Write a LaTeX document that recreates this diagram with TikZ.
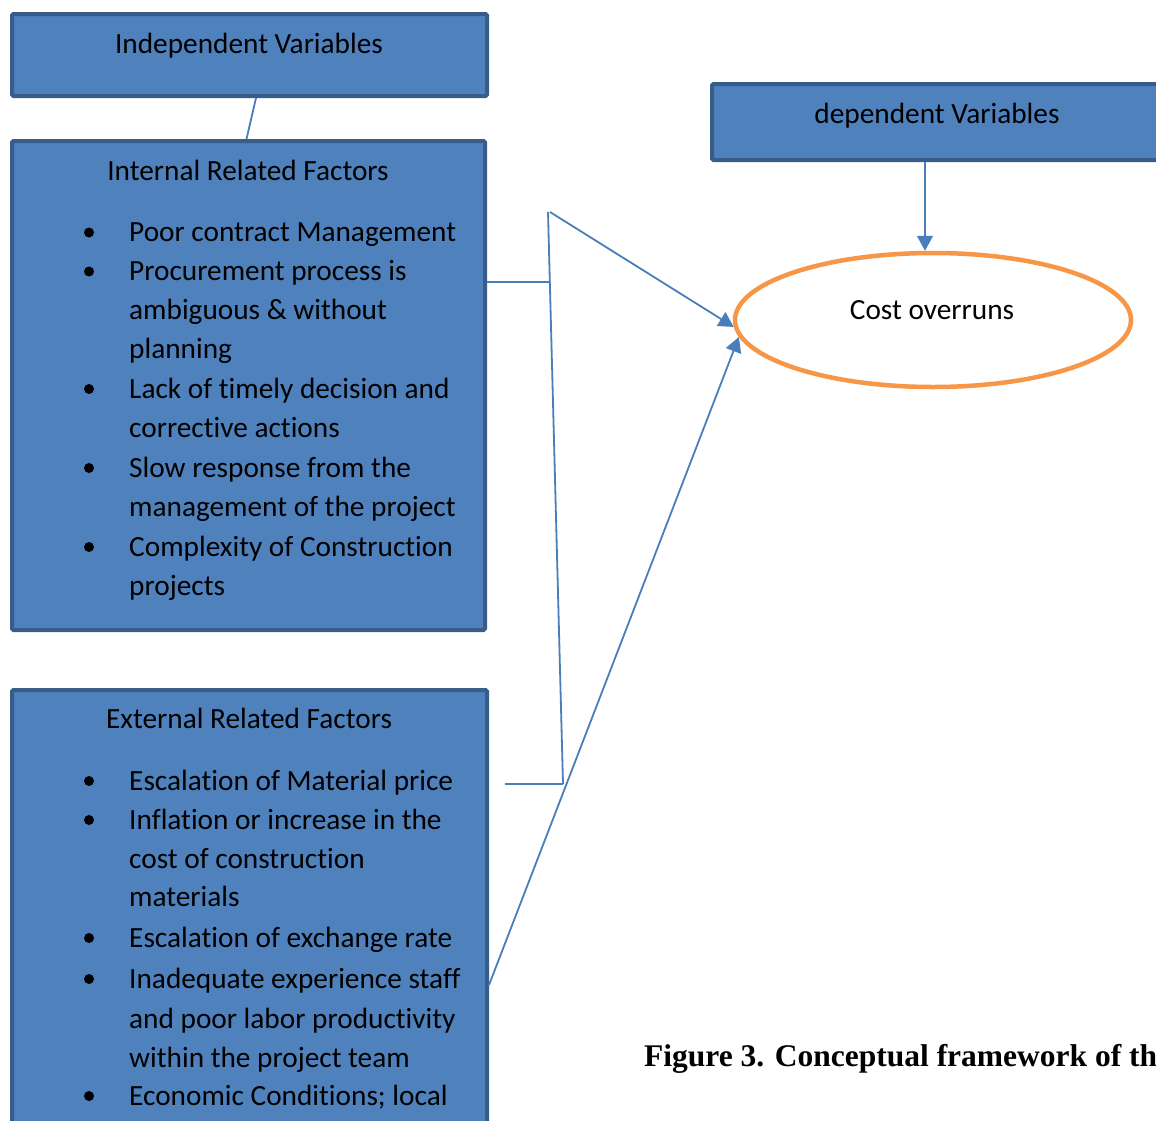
\documentclass[tikz,border=0pt]{standalone}
\usepackage{fontspec}
\setmainfont{Carlito}[Ligatures=NoCommon]
\newfontfamily\capfont{Liberation Serif}
\usepackage{tikz}
\usetikzlibrary{shapes.geometric,arrows.meta}
\definecolor{BoxBlue}{HTML}{4F81BD}
\definecolor{BoxEdge}{HTML}{385D8A}
\definecolor{LineBlue}{HTML}{4A7EBB}
\definecolor{RingOrange}{HTML}{F79646}

\tikzset{
    varbox/.style={draw=BoxEdge, fill=BoxBlue, line width=4pt, rounded corners=1.5pt, inner sep=0pt},
    label/.style={anchor=base, inner sep=0pt, font=\fontsize{29.3}{39}\selectfont},
    itemtext/.style={anchor=base west, inner sep=0pt, font=\fontsize{29.3}{39}\selectfont},
    conn/.style={draw=LineBlue, line width=1.8pt},
    tip/.style={-{Triangle[length=15pt,width=16pt]}}
}

\begin{document}
\begin{tikzpicture}[x=1pt,y=-1pt]
    \useasboundingbox (0,0) rectangle (1156,1120);
    \clip (0,0) rectangle (1156,1120);

    % Variable boxes
    \node[varbox, minimum width=475pt, minimum height=82pt] (indep) at (249.5,55) {};
    \node[label] (indeptxt) at (249,53) {Independent Variables};

    \node[varbox, minimum width=473pt, minimum height=489pt] (internal) at (248.5,385.5) {};
    \node[varbox, minimum width=475pt, minimum height=520pt] (external) at (249.5,950) {};
    \node[varbox, minimum width=520pt, minimum height=76pt] (dep) at (972,122) {};
    \node[label] (deptxt) at (937,123) {dependent Variables};

    \draw[conn] ([xshift=6.5pt]indep.south) -- ([xshift=-2pt]internal.north);

    % Internal related factors
    \node[label] (inttitle) at (248,180) {Internal Related Factors};
    \foreach \y/\t [count=\n] in {241.5/Poor contract Management,
        280.5/Procurement process is, 319.5/ambiguous \& without, 358.5/planning,
        398/Lack of timely decision and, 437.5/corrective actions,
        477/Slow response from the, 516.5/management of the project,
        556/Complexity of Construction, 595/projects}
        \node[itemtext] (int\n) at (129,\y) {\t};
    \foreach \y in {241.5,280.5,398,477,556}
        \fill (89,\y-9) circle (5);

    % External related factors
    \node[label] (exttitle) at (249,728) {External Related Factors};
    \foreach \y/\t [count=\n] in {790/Escalation of Material price,
        829/Inflation or increase in the, 868/cost of construction, 906/materials,
        947/Escalation of exchange rate,
        988/Inadequate experience staff, 1028/and poor labor productivity,
        1067/within the project team,
        1105/Economic Conditions; local}
        \node[itemtext] (ext\n) at (129,\y) {\t};
    \foreach \y in {790,829,947,988,1105}
        \fill (89,\y-9) circle (5);

    % Dependent variable
    \node[ellipse, draw=RingOrange, fill=white, line width=4.5pt,
          minimum width=396pt, minimum height=134pt, inner sep=0pt] (cost) at (933,320) {};
    \node[label] (costtxt) at (932,319) {Cost overruns};
    \draw[conn, tip] (dep.south -| 925,0) -- (cost.north -| 925,0);

    % Bracket and arrows
    \coordinate (brtop) at (548,212);
    \coordinate (brbot) at (563,784);
    \coordinate (brin) at (549.8,282);
    \coordinate (extstub) at (505,784);
    \draw[conn] (brtop) -- (brbot);
    \draw[conn] (internal.east |- brin) -- (brin);
    \draw[conn] (extstub) -- (brbot);
    \draw[conn, tip] ([xshift=2pt]brtop) -- (cost.182);
    \draw[conn, tip] (external.east |- 0,985) -- (cost.185);

    % Caption
    \node[anchor=base west, inner sep=0pt, font=\capfont\bfseries\fontsize{31.5}{36}\selectfont]
        (caption) at (644,1066) {Figure 3. Conceptual framework of th};
\end{tikzpicture}
\end{document}
